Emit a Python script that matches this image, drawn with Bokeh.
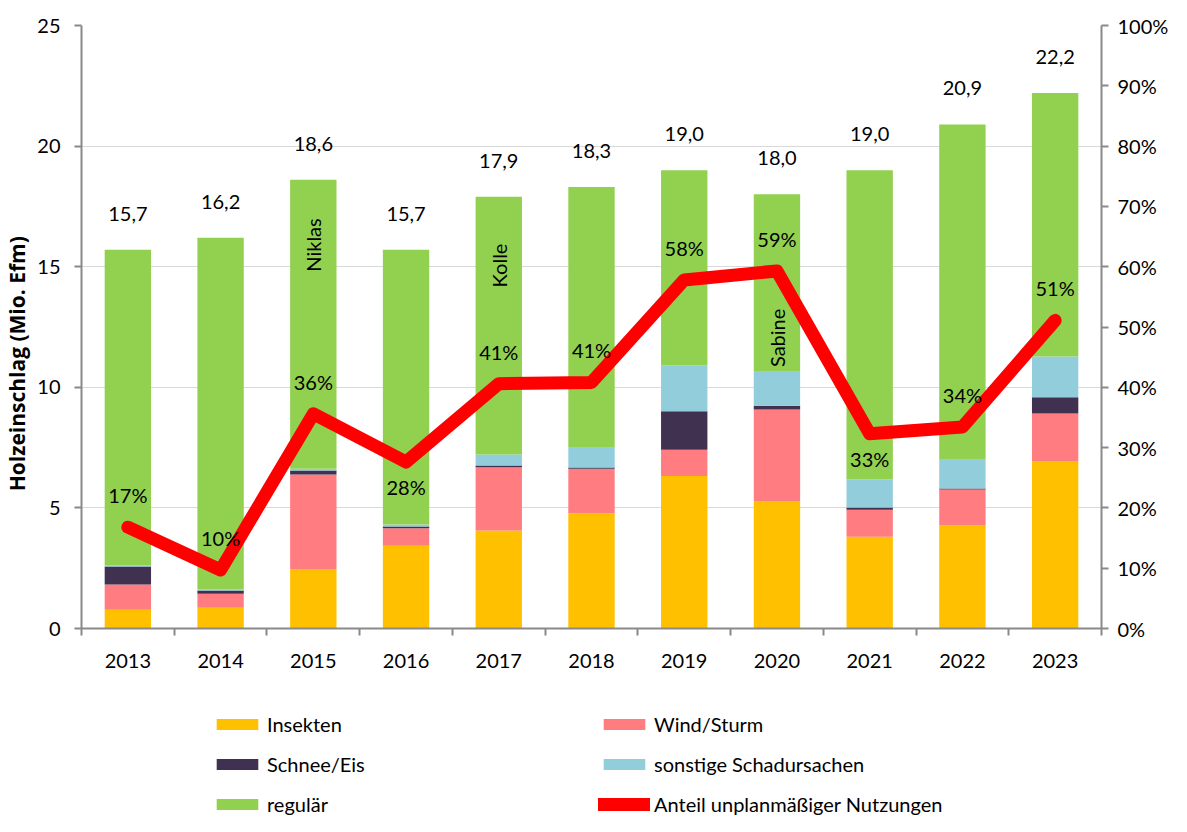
from math import pi
from bokeh.plotting import figure
from bokeh.layouts import column
from bokeh.models import (Range1d, LinearAxis, FixedTicker, NumeralTickFormatter,
                          Legend, LegendItem, ColumnDataSource)
from bokeh.embed import file_html
from bokeh.resources import INLINE
from bokeh.core.properties import value

# ---------------- data ----------------
years = ["2013", "2014", "2015", "2016", "2017", "2018", "2019", "2020", "2021", "2022", "2023"]
insekten = [0.78, 0.86, 2.47, 3.43, 4.06, 4.78, 6.32, 5.29, 3.80, 4.27, 6.94]
wind_sturm = [1.04, 0.58, 3.91, 0.73, 2.63, 1.84, 1.09, 3.79, 1.12, 1.49, 1.97]
schnee_eis = [0.75, 0.14, 0.17, 0.07, 0.07, 0.05, 1.60, 0.15, 0.10, 0.04, 0.68]
sonstige = [0.05, 0.04, 0.07, 0.08, 0.45, 0.82, 1.89, 1.45, 1.16, 1.20, 1.69]
regulaer = [13.08, 14.58, 11.98, 11.39, 10.69, 10.81, 8.10, 7.32, 12.82, 13.90, 10.92]
totals = [15.7, 16.2, 18.6, 15.7, 17.9, 18.3, 19.0, 18.0, 19.0, 20.9, 22.2]
anteil_pct = [16.8, 9.7, 35.6, 27.6, 40.6, 40.8, 57.8, 59.3, 32.3, 33.4, 51.1]
anteil_labels = ["17%", "10%", "36%", "28%", "41%", "41%", "58%", "59%", "33%", "34%", "51%"]
anteil_label_side = ["above", "above", "above", "below", "above", "above",
                     "above", "above", "below", "above", "above"]
storm_years = ["2015", "2017", "2020"]
storm_names = ["Niklas", "Kolle", "Sabine"]
storm_label_y = [15.9, 15.05, 12.05]

series_names = ["Insekten", "Wind/Sturm", "Schnee/Eis", "sonstige Schadursachen", "regulär"]
series_keys = ["insekten", "wind", "schnee", "sonstige", "regulaer"]
series_colors = ["#FFC000", "#FF7C80", "#403151", "#92CDDC", "#92D050"]
line_name = "Anteil unplanmäßiger Nutzungen"
line_color = "#FF0000"

FONT = "Lato"
TXT = "#000000"
AXC = "#898989"

xs = list(range(len(years)))
src = ColumnDataSource(dict(
    x=xs, insekten=insekten, wind=wind_sturm, schnee=schnee_eis,
    sonstige=sonstige, regulaer=regulaer, total=totals,
    total_lbl=[f"{t:.1f}".replace(".", ",") for t in totals],
    pct=[a / 100 for a in anteil_pct], pct_lbl=anteil_labels,
    pct_off=[-32 if s == "above" else 25 for s in anteil_label_side],
))

p = figure(width=1171, height=680, output_backend="svg", toolbar_location=None,
           x_range=Range1d(-0.5, len(years) - 0.5), y_range=Range1d(0, 25),
           min_border_left=80, min_border_right=68, min_border_top=25,
           min_border_bottom=52)
p.outline_line_color = None
p.extra_y_ranges = {"pct": Range1d(0, 1)}

p.xgrid.grid_line_color = None
p.ygrid.grid_line_color = "#D9D9D9"
p.ygrid.grid_line_width = 1
p.ygrid.ticker = FixedTicker(ticks=[0, 5, 10, 15, 20, 25])

p.vbar_stack(series_keys, x="x", width=0.5, source=src,
             color=series_colors, line_color=None)

p.line("x", "pct", source=src, y_range_name="pct", line_color=line_color,
       line_width=13, line_join="round", line_cap="round")

p.text("x", "total", text="total_lbl", source=src, y_offset=-36,
       text_align="center", text_baseline="middle", text_font=value(FONT),
       text_font_size="20px", text_color=TXT)

p.text("x", "pct", text="pct_lbl", source=src, y_range_name="pct", y_offset="pct_off",
       text_align="center", text_baseline="middle", text_font=value(FONT),
       text_font_size="20px", text_color=TXT)

storm_src = ColumnDataSource(dict(x=[years.index(y) for y in storm_years],
                                  y=storm_label_y, t=storm_names))
p.text("x", "y", text="t", source=storm_src, angle=pi / 2, text_align="center",
       text_baseline="middle", text_font=value(FONT), text_font_size="20px",
       text_color=TXT)

# x axis
xa = p.xaxis[0]
xa.ticker = FixedTicker(ticks=xs, minor_ticks=[i - 0.5 for i in range(len(years) + 1)])
xa.major_label_overrides = {i: y for i, y in enumerate(years)}
xa.major_tick_out = 0
xa.major_tick_in = 0
xa.minor_tick_out = 7
xa.minor_tick_in = 0
xa.minor_tick_line_color = AXC
xa.minor_tick_line_width = 2
xa.axis_line_color = AXC
xa.axis_line_width = 2
xa.major_label_standoff = 18
xa.major_label_text_font = FONT
xa.major_label_text_font_size = "20px"
xa.major_label_text_color = TXT

# left axis
ya = p.yaxis[0]
ya.ticker = FixedTicker(ticks=[0, 5, 10, 15, 20, 25])
ya.minor_tick_line_color = None
ya.major_tick_out = 7
ya.major_tick_in = 0
ya.major_tick_line_color = AXC
ya.major_tick_line_width = 2
ya.axis_line_color = AXC
ya.axis_line_width = 2
ya.major_label_standoff = 14
ya.major_label_text_font = FONT
ya.major_label_text_font_size = "20px"
ya.major_label_text_color = TXT
ya.axis_label = "Holzeinschlag (Mio. Efm)" + "\u2003" * 3 + "\u2002"
ya.axis_label_standoff = 3
ya.axis_label_text_font = "Open Sans"
ya.axis_label_text_font_size = "21px"
ya.axis_label_text_font_style = "bold"
ya.axis_label_text_color = TXT

# right axis
ra = LinearAxis(y_range_name="pct", ticker=FixedTicker(ticks=[i / 10 for i in range(11)]),
                formatter=NumeralTickFormatter(format="0%"))
ra.minor_tick_line_color = None
ra.major_tick_out = 7
ra.major_tick_in = 0
ra.major_tick_line_color = AXC
ra.major_tick_line_width = 2
ra.axis_line_color = AXC
ra.axis_line_width = 2
ra.major_label_standoff = 9
ra.major_label_text_font = FONT
ra.major_label_text_font_size = "20px"
ra.major_label_text_color = TXT
p.add_layout(ra, "right")

# ---------------- legend (separate strip below the chart) ----------------
lg = figure(width=1171, height=136, output_backend="svg", toolbar_location=None,
            x_range=Range1d(0, 1), y_range=Range1d(0, 1),
            x_axis_location=None, y_axis_location=None,
            min_border_left=0, min_border_right=0, min_border_top=0, min_border_bottom=0)
lg.outline_line_color = None
lg.grid.grid_line_color = None

items = []
for name, col in zip(series_names, series_colors):
    r = lg.vbar(x=[0.5], top=[0], bottom=[0], width=0, color=col, line_color=None)
    items.append(LegendItem(label=name, renderers=[r]))
lr = lg.line(x=[-10, -9], y=[0, 0], line_color=line_color, line_width=13, line_cap="round")
items.append(LegendItem(label=line_name, renderers=[lr]))

legend = Legend(items=items, location=(130, 0), ncols=2, orientation="horizontal",
                glyph_width=52, glyph_height=14, label_standoff=4, label_width=315,
                label_height=20, spacing=16, padding=0, margin=0,
                border_line_color=None, background_fill_alpha=0,
                label_text_font=FONT, label_text_font_size="20px",
                label_text_color=TXT)
lg.add_layout(legend, "center")

layout = column(p, lg, spacing=0)
open("out.html", "w").write(file_html(layout, INLINE))
